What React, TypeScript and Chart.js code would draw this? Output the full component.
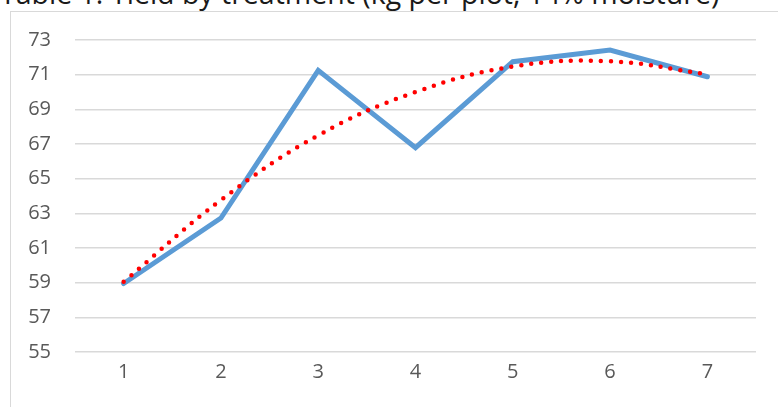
import React, { useEffect, useRef } from "react";
import { Chart, registerables } from "chart.js";

Chart.register(...registerables);

const TITLE = "Table 1: Yield by treatment (kg per plot, 14% moisture)";
const categories = ["1", "2", "3", "4", "5", "6", "7"];
const yieldValues = [58.95, 62.73, 71.25, 66.79, 71.75, 72.42, 70.88];
const trendValues = [59.05, 63.77, 67.5, 70.0, 71.47, 71.77, 71.02];
const yMin = 55;
const yMax = 73;
const yStep = 2;

export default function App() {
  const ref = useRef<HTMLCanvasElement | null>(null);

  useEffect(() => {
    if (!ref.current) return;
    const chart = new Chart(ref.current, {
      type: "line",
      data: {
        labels: categories,
        datasets: [
          {
            label: "Trend",
            data: trendValues,
            borderColor: "#ff0000",
            borderWidth: 4.5,
            borderDash: [0, 10],
            borderCapStyle: "round",
            pointRadius: 0,
            tension: 0.4,
            fill: false,
            order: 0,
          },
          {
            label: "Yield",
            data: yieldValues,
            borderColor: "#5b9bd5",
            borderWidth: 5,
            borderCapStyle: "round",
            borderJoinStyle: "miter",
            pointRadius: 0,
            tension: 0,
            fill: false,
            order: 1,
          },
        ],
      },
      options: {
        animation: false,
        responsive: false,
        devicePixelRatio: 1,
        layout: { padding: { top: 40, right: 22, left: 0, bottom: 0 } },
        plugins: {
          legend: { display: false },
          tooltip: { enabled: false },
          title: { display: false },
        },
        scales: {
          x: {
            type: "category",
            offset: true,
            grid: { display: false, drawTicks: false },
            border: { display: false },
            ticks: {
              color: "#595959",
              font: { family: "'Open Sans'", size: 20 },
              padding: 8,
              maxRotation: 0,
            },
            afterFit: (s: any) => {
              s.height = 55;
            },
          },
          y: {
            min: yMin,
            max: yMax,
            grid: { color: "#d9d9d9", lineWidth: 1.5, drawTicks: false },
            border: { display: false },
            ticks: {
              stepSize: yStep,
              color: "#595959",
              font: { family: "'Open Sans'", size: 20 },
              padding: 24,
            },
            afterFit: (s: any) => {
              s.width = 75;
            },
          },
        },
      },
    });
    return () => chart.destroy();
  }, []);

  return (
    <div style={{ position: "absolute", left: 0, top: 0, width: 778, height: 407, overflow: "hidden", background: "#fff" }}>
      <div
        style={{
          position: "absolute",
          left: 10,
          top: 11,
          width: 800,
          height: 420,
          border: "1.5px solid #d9d9d9",
          boxSizing: "border-box",
        }}
      />
      <div
        style={{
          position: "absolute",
          left: 0,
          top: -21,
          fontFamily: "'Open Sans'",
          fontSize: 28.5,
          lineHeight: "28.5px",
          color: "#1a1a1a",
          whiteSpace: "nowrap",
        }}
      >
        {TITLE}
      </div>
      <canvas ref={ref} width={778} height={407} style={{ position: "absolute", left: 0, top: 0 }} />
    </div>
  );
}
